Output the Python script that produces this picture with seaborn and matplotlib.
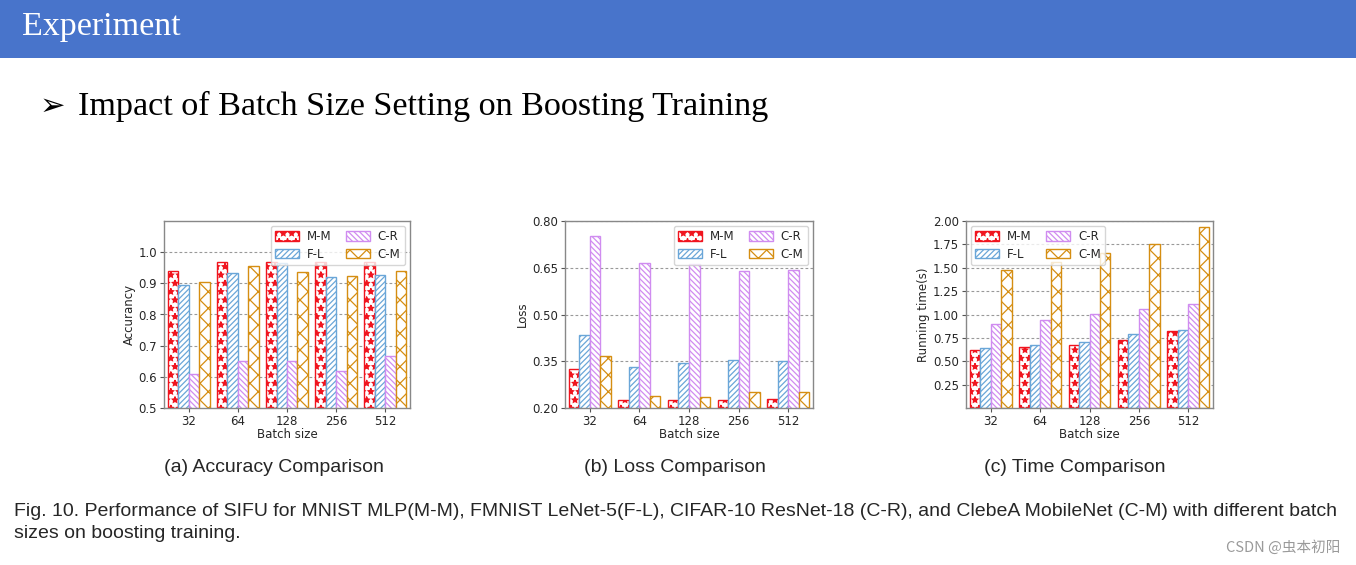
import matplotlib
matplotlib.use("Agg")
import matplotlib.pyplot as plt
from matplotlib.patches import Patch, Rectangle
import seaborn as sns
import pandas as pd

batch_sizes = ["32", "64", "128", "256", "512"]
models = ["M-M", "F-L", "C-R", "C-M"]

acc_mm = [0.938, 0.969, 0.969, 0.969, 0.969]
acc_fl = [0.894, 0.933, 0.965, 0.919, 0.927]
acc_cr = [0.609, 0.650, 0.650, 0.618, 0.668]
acc_cm = [0.904, 0.955, 0.936, 0.924, 0.938]

loss_mm = [0.326, 0.225, 0.225, 0.227, 0.229]
loss_fl = [0.433, 0.333, 0.343, 0.354, 0.352]
loss_cr = [0.753, 0.664, 0.663, 0.639, 0.642]
loss_cm = [0.368, 0.237, 0.235, 0.250, 0.251]

time_mm = [0.615, 0.651, 0.669, 0.729, 0.825]
time_fl = [0.647, 0.669, 0.704, 0.790, 0.832]
time_cr = [0.900, 0.936, 1.003, 1.060, 1.113]
time_cm = [1.473, 1.562, 1.654, 1.750, 1.932]

edge_colors = ["#f0141e", "#6aa6d8", "#d08cf0", "#d58e12"]
hatches = ["**", "//////", "\\\\\\\\\\\\", "xx"]

acc_ticks = [0.5, 0.6, 0.7, 0.8, 0.9, 1.0]
loss_ticks = [0.20, 0.35, 0.50, 0.65, 0.80]
time_ticks = [0.25, 0.50, 0.75, 1.00, 1.25, 1.50, 1.75, 2.00]

sns.set_style("white")
plt.rcParams["font.family"] = ["DejaVu Sans"]
plt.rcParams["hatch.linewidth"] = 0.9

W, H = 1356, 565
fig = plt.figure(figsize=(W / 100, H / 100), dpi=100)
fig.patch.set_facecolor("white")

# header bar
fig.patches.append(Rectangle((0, 1 - 58 / H), 1, 58 / H, transform=fig.transFigure,
                             facecolor="#4874cb", edgecolor="none", zorder=0))
fig.text(22 / W, 1 - 27 / H, "Experiment", color="white", fontsize=24.5,
         family=["Liberation Serif"], va="center", ha="left")
fig.text(40 / W, 1 - 106 / H, "➢", color="black", fontsize=22,
         family=["DejaVu Sans"], va="center", ha="left")
fig.text(78 / W, 1 - 106 / H, "Impact of Batch Size Setting on Boosting Training", color="black",
         fontsize=24.6, family=["Liberation Serif"], va="center", ha="left")


def make_df(a, b, c, d):
    rows = []
    for m, vals in zip(models, [a, b, c, d]):
        for bs, v in zip(batch_sizes, vals):
            rows.append({"Batch size": bs, "model": m, "value": v})
    return pd.DataFrame(rows)


def draw(rect, df, ylabel, ylim, yticks, fmt, legend_loc):
    l, t, r, b = rect
    ax = fig.add_axes([l / W, 1 - b / H, (r - l) / W, (b - t) / H])
    sns.barplot(data=df, x="Batch size", y="value", hue="model", order=batch_sizes,
                hue_order=models, palette=edge_colors, fill=False, linewidth=1.0,
                width=0.85, ax=ax, legend=False, errorbar=None)
    for cont, ec, h in zip(ax.containers, edge_colors, hatches):
        for p in cont:
            p.set_facecolor("white")
            p.set_edgecolor(ec)
            p.set_hatch(h)
            p.set_linewidth(1.0)
    ax.set_ylim(*ylim)
    ax.set_yticks(yticks)
    ax.set_yticklabels([fmt.format(v) for v in yticks])
    ax.yaxis.grid(True, linestyle=(0, (2.5, 2)), color="#999999", linewidth=0.8)
    ax.set_axisbelow(True)
    ax.tick_params(axis="both", labelsize=8.5, length=3, color="#555555", pad=2)
    ax.tick_params(axis="x", bottom=True)
    ax.tick_params(axis="y", left=True)
    ax.set_xlabel("Batch size", fontsize=8.5, labelpad=0)
    ax.set_ylabel(ylabel, fontsize=8.5, labelpad=2)
    for s in ax.spines.values():
        s.set_color("#888888")
        s.set_linewidth(1.0)
    handles = [Patch(facecolor="white", edgecolor=ec, hatch=h, label=m)
               for m, ec, h in zip(models, edge_colors, hatches)]
    ax.legend(handles=handles, ncol=2, loc=legend_loc, fontsize=8.5, frameon=True,
              handlelength=2.0, handleheight=0.9, columnspacing=1.2, borderpad=0.4,
              labelspacing=0.35, handletextpad=0.7, fancybox=True, framealpha=0.8,
              borderaxespad=0.4)
    return ax


draw((164, 221, 410, 408), make_df(acc_mm, acc_fl, acc_cr, acc_cm), "Accurancy",
     (0.5, 1.1), acc_ticks, "{:.1f}", "upper right")
draw((565, 221, 813, 408), make_df(loss_mm, loss_fl, loss_cr, loss_cm), "Loss",
     (0.2, 0.8), loss_ticks, "{:.2f}", "upper right")
draw((966, 221, 1213, 408), make_df(time_mm, time_fl, time_cr, time_cm), "Running time(s)",
     (0.0, 2.0), time_ticks, "{:.2f}", "upper left")

cap_font = ["Liberation Sans"]
fig.text(274 / W, 1 - 468 / H, "(a) Accuracy Comparison", fontsize=14, family=cap_font,
         ha="center", va="center")
fig.text(675 / W, 1 - 468 / H, "(b) Loss Comparison", fontsize=14, family=cap_font,
         ha="center", va="center")
fig.text(1075 / W, 1 - 468 / H, "(c) Time Comparison", fontsize=14, family=cap_font,
         ha="center", va="center")
fig.text(14 / W, 1 - 511 / H,
         "Fig. 10. Performance of SIFU for MNIST MLP(M-M), FMNIST LeNet-5(F-L), CIFAR-10 ResNet-18 (C-R), "
         "and ClebeA MobileNet (C-M) with different batch",
         fontsize=14, family=cap_font, ha="left", va="center")
fig.text(14 / W, 1 - 533 / H, "sizes on boosting training.", fontsize=14, family=cap_font,
         ha="left", va="center")
fig.text(1340 / W, 1 - 547 / H, "CSDN @虫本初阳", fontsize=10.5, color="#9a9a9a",
         family=["Noto Sans CJK SC", "DejaVu Sans"], ha="right", va="center")

fig.savefig("out.png", dpi=100)
